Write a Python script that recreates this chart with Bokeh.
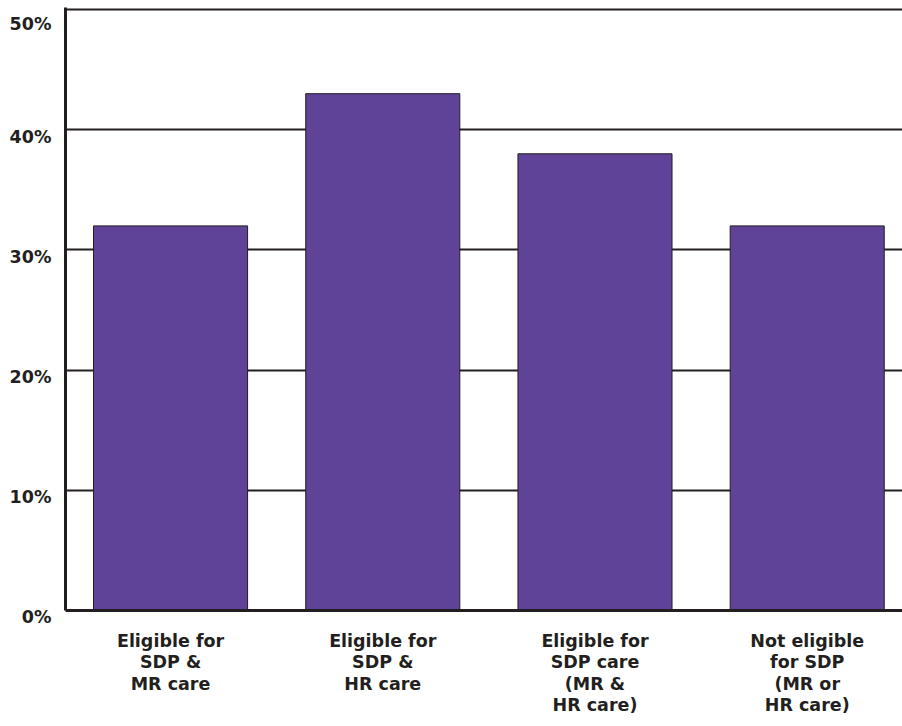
from bokeh.plotting import figure
from bokeh.models import Range1d, FixedTicker, ColumnDataSource
from bokeh.embed import file_html
from bokeh.resources import INLINE

# ---- data ----
categories = [
    "Eligible for\nSDP &\nMR care",
    "Eligible for\nSDP &\nHR care",
    "Eligible for\nSDP care\n(MR &\nHR care)",
    "Not eligible\nfor SDP\n(MR or\nHR care)",
]
values = [32, 43, 38, 32]
y_ticks = [0, 10, 20, 30, 40, 50]
y_tick_labels = ["0%", "10%", "20%", "30%", "40%", "50%"]
grid_ticks = [10, 20, 30, 40, 50]

positions = list(range(len(categories)))
INK = "#231F20"
BAR = "#5E4398"
FONT = "DejaVu Sans"

src = ColumnDataSource(dict(x=positions, top=values))

p = figure(
    frame_width=837, frame_height=603,
    x_range=Range1d(-0.495, 3.449), y_range=Range1d(0, 50.17),
    output_backend="svg", toolbar_location=None,
    min_border_left=65, min_border_right=0, min_border_top=7, min_border_bottom=103,
)
p.outline_line_color = None
p.background_fill_color = "white"
p.border_fill_color = "white"

p.vbar(x="x", top="top", bottom=0, width=0.726, source=src,
       fill_color=BAR, line_color=INK, line_width=1)

# grid
p.xgrid.visible = False
p.ygrid.ticker = FixedTicker(ticks=grid_ticks)
p.ygrid.grid_line_color = INK
p.ygrid.grid_line_width = 2
p.ygrid.level = "underlay"

# y axis (labels sit slightly below their gridline, as in the original)
ya = p.yaxis[0]
ya.ticker = FixedTicker(ticks=y_ticks)
ya.major_label_overrides = {t: "\n" + l for t, l in zip(y_ticks, y_tick_labels)}
ya.axis_line_color = INK
ya.axis_line_width = 3
ya.major_tick_line_color = None
ya.minor_tick_line_color = None
ya.major_label_standoff = 8
ya.major_label_text_font = FONT
ya.major_label_text_font_style = "bold"
ya.major_label_text_font_size = "17.5px"
ya.major_label_text_color = INK
ya.major_label_text_line_height = 0.68

# x axis
xa = p.xaxis[0]
xa.ticker = FixedTicker(ticks=positions)
xa.major_label_overrides = {i: c for i, c in zip(positions, categories)}
xa.axis_line_color = INK
xa.axis_line_width = 3
xa.major_tick_line_color = None
xa.minor_tick_line_color = None
xa.major_label_standoff = 14
xa.major_label_text_font = FONT
xa.major_label_text_font_style = "bold"
xa.major_label_text_font_size = "17.5px"
xa.major_label_text_color = INK
xa.major_label_text_line_height = 1.08

open("out.html", "w").write(file_html(p, INLINE))
